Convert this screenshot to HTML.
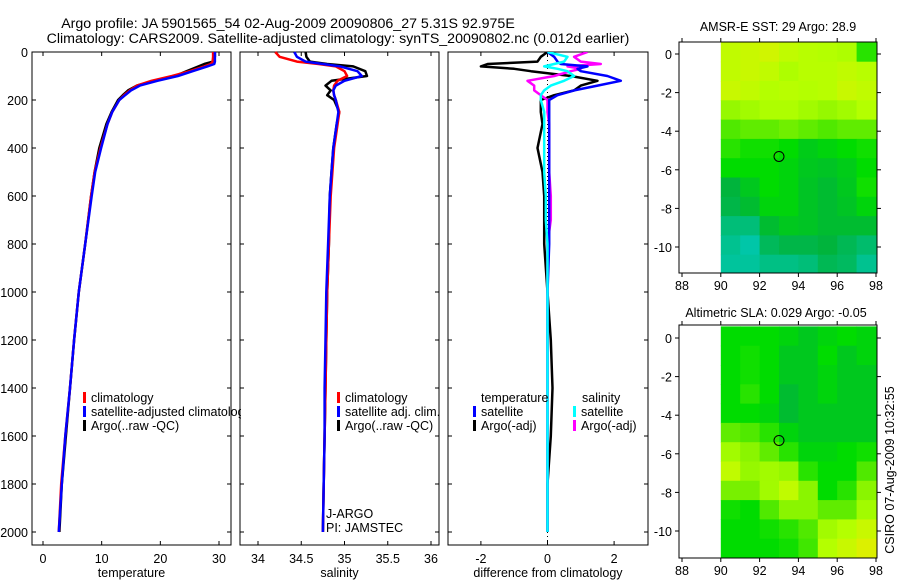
<!DOCTYPE html>
<html><head><meta charset="utf-8">
<style>
html,body{margin:0;padding:0;background:#fff;}
svg{display:block;font-family:"Liberation Sans",sans-serif;}
text{fill:#000;}
</style></head>
<body>
<svg id="s" width="900" height="580" xmlns="http://www.w3.org/2000/svg">
<defs>
<clipPath id="cp1"><rect x="32" y="52" width="209" height="494"/></clipPath>
<clipPath id="cp3"><rect x="448" y="52" width="200" height="494"/></clipPath>
</defs>
<text x="345" y="28" font-size="14.2" text-anchor="middle" transform="translate(-57,0)">Argo profile: JA 5901565_54 02-Aug-2009 20090806_27 5.31S 92.975E</text>
<text x="338" y="43" font-size="14.2" text-anchor="middle">Climatology: CARS2009. Satellite-adjusted climatology: synTS_20090802.nc (0.012d earlier)</text>
<text x="778" y="31" font-size="12.5" text-anchor="middle">AMSR-E SST: 29 Argo: 28.9</text>
<text x="776" y="317" font-size="12.5" text-anchor="middle">Altimetric SLA: 0.029 Argo: -0.05</text>
<text transform="translate(894,470) rotate(-90)" font-size="12.5" text-anchor="middle">CSIRO 07-Aug-2009 10:32:55</text>
<g id="g"></g>
</svg>
<script>
// ---------- data ----------
const depths = [0,20,40,50,60,80,100,120,140,160,180,200,250,300,400,500,600,800,1000,1200,1400,1600,1800,2000];
const tempClim = [29.0,29.0,28.9,28.6,27.5,25,22,18.5,16,14.8,13.8,13,11.8,11,9.8,8.8,8.2,7.2,6.1,5.3,4.6,3.8,3.1,2.7];
const tempSat  = [29.3,29.3,29.3,29.2,28,25.5,23,19.5,16.5,15,14,13,11.8,11,9.9,8.9,8.3,7.2,6.1,5.3,4.6,3.8,3.2,2.7];
const tempArgo = [29.3,29.3,29,27.5,26.5,24.5,22.5,19,16,14.5,13.6,12.8,11.7,10.8,9.6,8.8,8.2,7.2,6.1,5.3,4.6,3.9,3.2,2.8];
const salClim = [34.2,34.25,34.45,34.7,34.9,35.0,35.03,34.92,34.88,34.87,34.88,34.9,34.94,34.92,34.88,34.86,34.84,34.82,34.8,34.79,34.78,34.77,34.76,34.75];
const salSat  = [34.42,34.45,34.55,34.75,34.95,35.15,35.2,35.0,34.9,34.87,34.88,34.9,34.93,34.91,34.87,34.85,34.83,34.81,34.79,34.78,34.77,34.77,34.76,34.75];
const salArgo = [34.55,34.56,34.6,34.8,35.1,35.24,35.26,34.85,34.78,34.84,34.8,34.88,34.94,34.91,34.87,34.85,34.83,34.82,34.8,34.79,34.78,34.77,34.76,34.75];
const diffDepths = [0,20,40,50,60,70,80,100,120,140,160,180,200,250,300,400,500,600,700,800,1000,1200,1400,1600,1800,2000];
const tempSatDiff  = [0,0.2,0.3,0.4,1.2,0.9,1.0,1.8,2.2,1.5,0.8,0.3,0.05,0.05,0.05,0.05,0.05,0.05,0.05,0.05,0,0,0,0,0,0];
const tempArgoDiff = [0,-0.2,-0.3,-1.8,-2.0,-1.0,-0.5,0.7,1.5,1.0,0.8,0.2,-0.2,-0.2,-0.15,-0.3,-0.15,-0.1,-0.1,-0.1,0,0.1,0.15,0.1,0.0,0.0];
const salSatDiff   = [0,0.6,0.5,0.2,-0.1,0.3,0.6,0.8,0.5,0.1,-0.1,-0.2,-0.2,-0.1,-0.1,-0.1,-0.1,-0.05,-0.05,0,0,0,0,0,0,0];
const salArgoDiff  = [1.2,0.8,1.0,1.6,0.6,1.0,0.7,0.2,-0.6,-0.4,-0.4,-0.2,0,0,0.05,0.05,0.05,0.1,0.1,0,0,0,0,0,0,0];
const depthTicks = [0,200,400,600,800,1000,1200,1400,1600,1800,2000];
const tempTicks = [0,10,20,30];
const salTicks = [34,34.5,35,35.5,36];
const diffTicks = [-2,0,2];
const lonTicks = [88,90,92,94,96,98];
const latTicks = [0,-2,-4,-6,-8,-10];
const mapLons = [90,91,92,93,94,95,96,97];
const mapLats = [0.6,-0.4,-1.4,-2.4,-3.4,-4.4,-5.4,-6.4,-7.4,-8.4,-9.4,-10.4];
const sstGrid = [
[0.78,0.8,0.82,0.78,0.76,0.75,0.74,0.55],
[0.78,0.8,0.78,0.74,0.76,0.76,0.78,0.76],
[0.8,0.78,0.75,0.76,0.75,0.76,0.8,0.78],
[0.7,0.72,0.74,0.74,0.72,0.7,0.72,0.75],
[0.6,0.62,0.62,0.64,0.62,0.6,0.62,0.62],
[0.55,0.52,0.52,0.5,0.46,0.48,0.5,0.52],
[0.5,0.5,0.5,0.48,0.45,0.44,0.46,0.5],
[0.4,0.45,0.5,0.48,0.44,0.42,0.45,0.52],
[0.38,0.42,0.48,0.48,0.44,0.42,0.44,0.48],
[0.3,0.3,0.42,0.45,0.44,0.42,0.42,0.42],
[0.26,0.22,0.35,0.38,0.38,0.4,0.36,0.32],
[0.24,0.24,0.28,0.28,0.3,0.36,0.34,0.26]];
const slaGrid = [
[0.5,0.5,0.5,0.48,0.45,0.48,0.5,0.48],
[0.5,0.52,0.5,0.45,0.45,0.5,0.45,0.48],
[0.5,0.52,0.5,0.45,0.45,0.48,0.45,0.45],
[0.5,0.55,0.5,0.42,0.45,0.48,0.45,0.45],
[0.5,0.5,0.48,0.42,0.45,0.45,0.45,0.45],
[0.62,0.6,0.55,0.48,0.45,0.45,0.45,0.45],
[0.72,0.68,0.62,0.55,0.48,0.48,0.5,0.52],
[0.78,0.7,0.72,0.7,0.55,0.5,0.5,0.6],
[0.65,0.65,0.72,0.78,0.68,0.5,0.55,0.68],
[0.52,0.5,0.6,0.68,0.68,0.62,0.62,0.72],
[0.5,0.5,0.52,0.55,0.6,0.72,0.75,0.8],
[0.5,0.5,0.5,0.52,0.58,0.75,0.8,0.85]];
const argoLon = 93, argoLat = -5.31;

// ---------- helpers ----------
const NS="http://www.w3.org/2000/svg";
const G=document.getElementById('g');
function mk(tag,attrs,parent){const e=document.createElementNS(NS,tag);for(const k in attrs)e.setAttribute(k,attrs[k]);(parent||G).appendChild(e);return e;}
function txt(x,y,s,size,anchor,parent){const t=mk('text',{x:x,y:y,'font-size':size,'text-anchor':anchor||'start'},parent);t.textContent=s;return t;}
const yDepth = d => 52 + d*0.24;
const xTemp = v => 43 + v*5.867;
const xSal = v => 258 + (v-34)*86.5;
const xDiff = v => 547.5 + v*33.3;

function frame(x,y,w,h,name){
  const r=mk('rect',{x:x,y:y,width:w,height:h,fill:'none',stroke:'#000','stroke-width':1});
  
  
}
function panelAxes(x0,x1,xTicks,xf,xlabel,name,showDepthLabels){
  frame(x0,52,x1-x0,493,name+'-frame');
  depthTicks.forEach(d=>{
    const y=yDepth(d);
    mk('line',{x1:x0,y1:y,x2:x0+4,y2:y,stroke:'#000'});
    mk('line',{x1:x1-4,y1:y,x2:x1,y2:y,stroke:'#000'});
    if(showDepthLabels){const t=txt(x0-4,y+5,String(d),12.5,'end');}
  });
  xTicks.forEach(v=>{
    const x=xf(v);
    mk('line',{x1:x,y1:545,x2:x,y2:541,stroke:'#000'});
    mk('line',{x1:x,y1:52,x2:x,y2:56,stroke:'#000'});
    const t=txt(x,563,String(v),12.5,'middle');
    
    
  });
  const l=txt((x0+x1)/2,577,xlabel,12.5,'middle');
  
  
}
function line(ds,vs,xf,color,name,clip,w){
  const pts=ds.map((d,i)=>xf(vs[i]).toFixed(1)+','+yDepth(d).toFixed(1)).join(' ');
  const p=mk('polyline',{points:pts,fill:'none',stroke:color,'stroke-width':w||2.5,'stroke-linejoin':'round'});
  if(clip)p.setAttribute('clip-path','url(#'+clip+')');
  
  
}
function legend(x,y,color,label,name,clip){
  mk('rect',{x:x,y:y-10,width:3,height:11,fill:color});
  const t=txt(x+8,y,label,12.5);
  if(clip)t.setAttribute('clip-path','url(#'+clip+')');
  
  
  return t;
}

// ---------- panel 1: temperature ----------
panelAxes(32,231,tempTicks,xTemp,'temperature','temperature-panel',true);
line(depths,tempArgo,xTemp,'#000','temp-argo-line');
line(depths,tempClim,xTemp,'#f00','temp-climatology-line');
line(depths,tempSat,xTemp,'#00f','temp-satellite-line');
legend(83,402,'#f00','climatology','temp-legend-climatology');
legend(83,416,'#00f','satellite-adjusted climatology','temp-legend-satellite','cp1');
legend(83,430,'#000','Argo(..raw -QC)','temp-legend-argo');

// ---------- panel 2: salinity ----------
panelAxes(240,439,salTicks,xSal,'salinity','salinity-panel',false);
line(depths,salArgo,xSal,'#000','sal-argo-line');
line(depths,salClim,xSal,'#f00','sal-climatology-line');
line(depths,salSat,xSal,'#00f','sal-satellite-line');
legend(337,402,'#f00','climatology','sal-legend-climatology');
legend(337,416,'#00f','satellite adj. clim.','sal-legend-satellite');
legend(337,430,'#000','Argo(..raw -QC)','sal-legend-argo');
{let t=txt(326,518,'J-ARGO',12.5);
 t=txt(326,532,'PI: JAMSTEC',12.5);}

// ---------- panel 3: differences ----------
panelAxes(448,648,diffTicks,xDiff,'difference from climatology','difference-panel',false);
mk('line',{x1:xDiff(0),y1:52,x2:xDiff(0),y2:545,stroke:'#000','stroke-dasharray':'1,3'});
line(diffDepths,tempArgoDiff,xDiff,'#000','temp-argo-diff-line','cp3');
line(diffDepths,salArgoDiff,xDiff,'#f0f','sal-argo-diff-line','cp3');
line(diffDepths,tempSatDiff,xDiff,'#00f','temp-satellite-diff-line','cp3');
line(diffDepths,salSatDiff,xDiff,'#0ff','sal-satellite-diff-line','cp3');
{let t=txt(481,402,'temperature',12.5);
 t=txt(582,402,'salinity',12.5);}
legend(473,416,'#00f','satellite','diff-legend-temp-satellite');
legend(473,430,'#000','Argo(-adj)','diff-legend-temp-argo');
legend(573,416,'#0ff','satellite','diff-legend-sal-satellite');
legend(573,430,'#f0f','Argo(-adj)','diff-legend-sal-argo');

// ---------- maps ----------
const stops=[[0.2,[0,200,180]],[0.4,[0,180,60]],[0.5,[0,220,0]],[0.65,[120,240,0]],[0.75,[180,255,0]],[0.85,[220,240,0]],[1.0,[255,170,0]]];
function cmap(v){
  if(v<=stops[0][0])return 'rgb('+stops[0][1]+')';
  for(let i=1;i<stops.length;i++){
    if(v<=stops[i][0]){const a=stops[i-1],b=stops[i],t=(v-a[0])/(b[0]-a[0]);
      return 'rgb('+a[1].map((c,k)=>Math.round(c+(b[1][k]-c)*t)).join(',')+')';}
  }
  return 'rgb('+stops[stops.length-1][1]+')';
}
function drawMap(top,bottom,lat0y,grid,name){
  const xL=lon=>682+(lon-88)*19.4;
  const yL=lat=>lat0y-lat*19.3;
  const clipId='clip-'+name;
  const cp=mk('clipPath',{id:clipId},document.querySelector('defs'));
  mk('rect',{x:679,y:top,width:198,height:bottom-top},cp);
  const g=mk('g',{'clip-path':'url(#'+clipId+')'});
  
  
  grid.forEach((row,r)=>row.forEach((v,c)=>{
    const x=xL(mapLons[c]), y=yL(mapLats[r]);
    const cell=mk('rect',{x:x.toFixed(1),y:y.toFixed(1),width:19.9,height:19.8,fill:cmap(v)},g);
    
    
  }));
  frame(679,top,198,bottom-top,name+'-frame');
  lonTicks.forEach(lon=>{
    const x=xL(lon);
    mk('line',{x1:x,y1:bottom,x2:x,y2:bottom+4,stroke:'#000'});
    mk('line',{x1:x,y1:top,x2:x,y2:top-4,stroke:'#000'});
    const t=txt(x,bottom+17,String(lon),12.5,'middle');
    
    
  });
  latTicks.forEach(lat=>{
    const y=yL(lat);
    mk('line',{x1:679,y1:y,x2:675,y2:y,stroke:'#000'});
    mk('line',{x1:877,y1:y,x2:881,y2:y,stroke:'#000'});
    const t=txt(672,y+5,String(lat),12.5,'end');
    
    
  });
  const m=mk('circle',{cx:xL(argoLon),cy:yL(argoLat),r:5,fill:'none',stroke:'#000','stroke-width':1});
  
  
}
drawMap(42,273,54,sstGrid,'sst-map');
drawMap(325,558,338,slaGrid,'sla-map');
</script>
</body></html>
